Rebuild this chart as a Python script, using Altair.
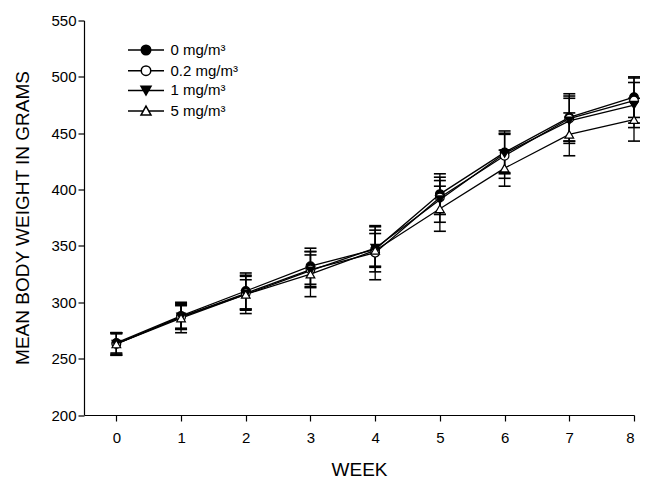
import altair as alt
import pandas as pd

weeks = [0, 1, 2, 3, 4, 5, 6, 7, 8]
doses = ["0 mg/m³", "0.2 mg/m³", "1 mg/m³", "5 mg/m³"]

mean_0 = [264, 288, 310, 332, 347, 396, 433, 464, 482]
mean_02 = [263, 287, 308, 329, 344, 393, 430, 463, 479]
mean_1 = [263, 287, 307, 328, 348, 391, 432, 461, 475]
mean_5 = [263, 286, 307, 325, 346, 383, 419, 449, 462]

sd_0 = [9, 12, 16, 16, 20, 18, 19, 21, 18]
sd_02 = [10, 11, 15, 16, 24, 15, 20, 20, 20]
sd_1 = [10, 10, 13, 14, 16, 20, 17, 20, 20]
sd_5 = [9, 13, 17, 20, 15, 20, 16, 19, 19]

y_ticks = [200, 250, 300, 350, 400, 450, 500, 550]

means = [mean_0, mean_02, mean_1, mean_5]
sds = [sd_0, sd_02, sd_1, sd_5]

rows = []
for i, (d, m, s) in enumerate(zip(doses, means, sds)):
    for w, mv, sv in zip(weeks, m, s):
        rows.append(dict(week=w, dose=d, order=i, mean=mv, lo=mv - sv, hi=mv + sv))
df = pd.DataFrame(rows)

FONT = "Liberation Sans"
marker_shapes = ["circle", "circle", "triangle-down", "triangle-up"]
marker_fills = ["black", "white", "black", "white"]
marker_strokes = ["black", "black", "black", "black"]
legend_shapes = [
    "M-3.6,0L-0.95,0M0.95,0L3.6,0M-0.95,0A0.95,0.95,0,1,0,0.95,0A0.95,0.95,0,1,0,-0.95,0Z",
    "M-3.6,0L-0.95,0M0.95,0L3.6,0M-0.95,0A0.95,0.95,0,1,0,0.95,0A0.95,0.95,0,1,0,-0.95,0Z",
    "M-3.6,0L3.6,0M-1.0,-0.85L1.0,-0.85L0,0.9Z",
    "M-3.6,0L-0.55,0M0.55,0L3.6,0M0,-1.0L1.0,0.8L-1.0,0.8Z",
]

xscale = alt.Scale(domain=[-0.5, 8], nice=False, zero=False)
yscale = alt.Scale(domain=[200, 550], nice=False, zero=False)

xaxis = alt.Axis(values=weeks, title="WEEK", grid=False, tickSize=6, labelPadding=9.5,
                 labelFontSize=15, titleFontSize=19, titleY=54.5, titleBaseline="middle",
                 format="d")
yaxis = alt.Axis(values=y_ticks, title="MEAN BODY WEIGHT IN GRAMS", grid=False, tickSize=6,
                 labelPadding=2, labelFontSize=15, titleFontSize=19, titleX=-61.5, titleY=197,
                 titleAngle=-90, titleBaseline="middle", titleAlign="center")

base = alt.Chart(df)

lines = base.mark_line(color="black", strokeWidth=1.3).encode(
    x=alt.X("week:Q", scale=xscale, axis=xaxis),
    y=alt.Y("mean:Q", scale=yscale, axis=yaxis),
    detail="dose:N",
)
bars = base.mark_rule(color="black", strokeWidth=1.3).encode(
    x="week:Q", y="lo:Q", y2="hi:Q"
)
caps_lo = base.mark_tick(color="black", orient="horizontal", size=12, thickness=1.6, opacity=1).encode(
    x="week:Q", y="lo:Q"
)
caps_hi = base.mark_tick(color="black", orient="horizontal", size=12, thickness=1.6, opacity=1).encode(
    x="week:Q", y="hi:Q"
)
points = base.mark_point(filled=False, color="black", opacity=1, size=75, strokeWidth=1.2).encode(
    x="week:Q",
    y="mean:Q",
    shape=alt.Shape("dose:N", scale=alt.Scale(domain=doses, range=marker_shapes), legend=None),
    fill=alt.Fill("dose:N", scale=alt.Scale(domain=doses, range=marker_fills), legend=None),
    order=alt.Order("order:Q"),
)

leg = alt.Legend(title=None, orient="none", legendX=54.5, legendY=22, labelOffset=17,
                 rowPadding=3.7, padding=0, labelFontSize=15, labelFont=FONT,
                 symbolSize=100, labelColor="black", symbolOpacity=1,
                 symbolStrokeWidth=1.5)

legend_layer = base.transform_filter("false").mark_point(
    filled=False, color="black", opacity=1, size=100, strokeWidth=1.5
).encode(
    x="week:Q",
    y="mean:Q",
    shape=alt.Shape("dose:N", scale=alt.Scale(domain=doses, range=legend_shapes), legend=leg),
    fill=alt.Fill("dose:N", scale=alt.Scale(domain=doses, range=marker_fills), legend=leg),
    stroke=alt.Stroke("dose:N", scale=alt.Scale(domain=doses, range=marker_strokes), legend=leg),
)

chart = alt.layer(lines, bars, caps_lo, caps_hi, points, legend_layer).resolve_scale(
    shape="independent", fill="independent", stroke="independent"
).properties(
    width=550,
    height=394.5,
    padding={"left": 76, "top": 12.5, "right": 10, "bottom": 70},
    autosize=alt.AutoSizeParams(type="none"),
).configure_view(stroke=None).configure_axis(
    domainColor="black", tickColor="black", labelColor="black", titleColor="black",
    labelFont=FONT, titleFont=FONT, titleFontWeight="normal", domainWidth=1.2, tickWidth=1.2,
)

chart.save("out.html", embed_options={"renderer": "svg", "actions": False})
